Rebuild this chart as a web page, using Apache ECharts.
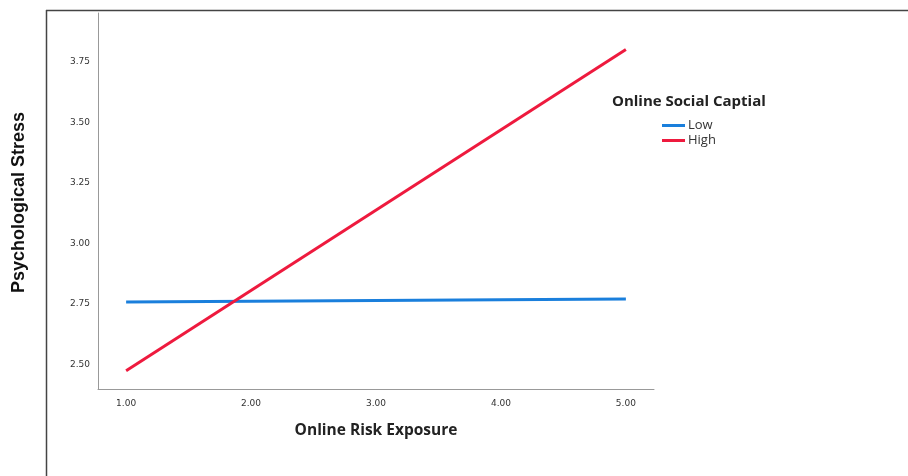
<!DOCTYPE html>
<html><head><meta charset="utf-8">
<script src="https://cdn.jsdelivr.net/npm/echarts@6/dist/echarts.min.js"></script>
<style>html,body{margin:0;padding:0;background:#fff}#c{width:908px;height:476px}</style>
</head><body><div id="c"></div>
<script>
var xValues = [1.0, 5.0];
var lowValues = [2.759, 2.771];
var highValues = [2.475, 3.80];
var seriesNames = ['Low', 'High'];
var legendTitle = 'Online Social Captial';
var xTitle = 'Online Risk Exposure';
var yTitle = 'Psychological Stress';

var chart = echarts.init(document.getElementById('c'), null, {renderer: 'canvas'});
function near(v, step) { var r = Math.round(v / step) * step; return Math.abs(v - r) < 1e-6; }
chart.setOption({
  animation: false,
  backgroundColor: '#fff',
  grid: {left: 98, top: 13, right: 254, bottom: 87, containLabel: false},
  title: {text: legendTitle, left: 607, top: 89,
    textStyle: {fontFamily: 'Open Sans', fontWeight: 'bold', fontSize: 15, color: '#222'}},
  legend: {orient: 'vertical', left: 657, top: 114, itemWidth: 23, itemHeight: 3, itemGap: 2,
    icon: 'rect', data: seriesNames,
    textStyle: {fontFamily: 'Open Sans', fontSize: 13, color: '#333', padding: [0,0,0,-2]}},
  xAxis: {type: 'value', min: 0.775, max: 5.225, interval: 0.025,
    name: xTitle, nameLocation: 'middle', nameGap: 34,
    nameTextStyle: {fontFamily: 'Open Sans', fontWeight: 'bold', fontSize: 15.5, color: '#222'},
    axisLine: {show: true, lineStyle: {color: '#999', width: 1}},
    axisTick: {show: false}, splitLine: {show: false},
    axisLabel: {fontFamily: 'DejaVu Sans', fontSize: 9, color: '#333', margin: 10,
      showMinLabel: false, showMaxLabel: false,
      formatter: function (v) { return near(v, 1) ? Math.round(v).toFixed(2) : ''; }}},
  yAxis: {type: 'value', min: 2.4, max: 3.95, interval: 0.05,
    axisLine: {show: true, lineStyle: {color: '#999', width: 1}},
    axisTick: {show: false}, splitLine: {show: false},
    axisLabel: {fontFamily: 'DejaVu Sans', fontSize: 9, color: '#333', margin: 8,
      formatter: function (v) { return near(v, 0.25) ? v.toFixed(2) : ''; }}},
  graphic: [
    {type: 'line', shape: {x1: 46, y1: 10.5, x2: 908, y2: 10.5}, style: {stroke: '#444', lineWidth: 1.5}},
    {type: 'line', shape: {x1: 46.5, y1: 10, x2: 46.5, y2: 476}, style: {stroke: '#444', lineWidth: 1.5}},
    {type: 'text', left: 10, top: 112, rotation: Math.PI / 2,
      style: {text: yTitle, font: 'bold 18px "Liberation Sans", Arial', fill: '#111'}}
  ],
  series: [
    {name: seriesNames[0], type: 'line', data: xValues.map(function (x, i) { return [x, lowValues[i]]; }),
      showSymbol: false, lineStyle: {color: '#1a7fdc', width: 3}, itemStyle: {color: '#1a7fdc'}},
    {name: seriesNames[1], type: 'line', data: xValues.map(function (x, i) { return [x, highValues[i]]; }),
      showSymbol: false, lineStyle: {color: '#ee1a3e', width: 3}, itemStyle: {color: '#ee1a3e'}}
  ]
});
</script></body></html>
